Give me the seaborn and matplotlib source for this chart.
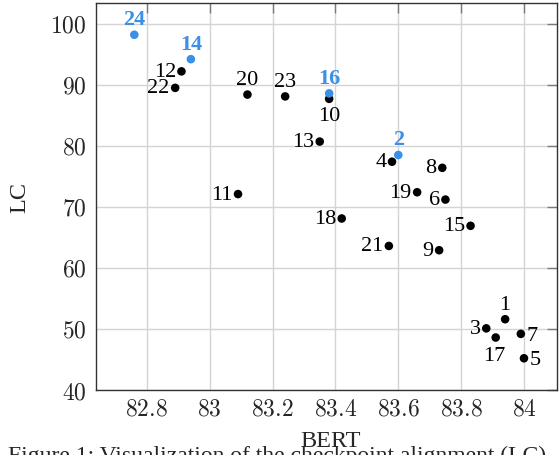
import matplotlib
matplotlib.use("Agg")
import matplotlib.pyplot as plt
from matplotlib.ticker import FuncFormatter, MultipleLocator
import seaborn as sns
import pandas as pd

# point ids, BERT score (x) and LC score (y)
ids = [1, 2, 3, 4, 5, 6, 7, 8, 9, 10, 11, 12,
       13, 14, 15, 16, 17, 18, 19, 20, 21, 22, 23, 24]
bert = [83.94, 83.60, 83.88, 83.58, 84.00, 83.75, 83.99, 83.74, 83.73, 83.38, 83.09, 82.91,
        83.35, 82.94, 83.83, 83.38, 83.91, 83.42, 83.66, 83.12, 83.57, 82.89, 83.24, 82.76]
lc = [51.6, 78.5, 50.1, 77.4, 45.2, 71.2, 49.2, 76.4, 62.9, 87.7, 72.1, 92.2,
      80.7, 94.2, 66.9, 88.6, 48.6, 68.1, 72.4, 88.4, 63.6, 89.5, 88.1, 98.2]
highlight = [2, 14, 16, 24]

# where each label sits relative to its point
label_pos = {1: "above", 2: "above", 3: "left", 4: "left", 5: "right", 6: "left",
             7: "right", 8: "left", 9: "left", 10: "below", 11: "left", 12: "left",
             13: "left", 14: "above", 15: "left", 16: "above", 17: "belowleft",
             18: "left", 19: "left", 20: "above", 21: "left", 22: "left", 23: "above",
             24: "above"}

df = pd.DataFrame({"id": ids, "BERT": bert, "LC": lc})
df["group"] = ["hi" if i in highlight else "base" for i in df["id"]]

BLUE = "#3a8fe6"

sns.set_theme(style="whitegrid")
plt.rcParams["font.family"] = ["Liberation Serif", "DejaVu Serif"]
plt.rcParams["mathtext.fontset"] = "cm"

fig = plt.figure(figsize=(5.6, 4.56), dpi=100)
ax = fig.add_axes([0.1714, 0.1425, 0.8232, 0.8487])

# draw black points first so the blue ones sit on top (16 over 10)
sns.scatterplot(data=df.sort_values("group"), x="BERT", y="LC", hue="group",
                palette={"base": "black", "hi": BLUE}, s=38, linewidth=0,
                legend=False, ax=ax, zorder=3)

offsets = {"above": ((0, 4), "center", "bottom"),
           "below": ((0, -5), "center", "top"),
           "left": ((-4, 0), "right", "center"),
           "right": ((4, -1), "left", "center"),
           "belowleft": ((-1, -6), "center", "top")}
for _, r in df.iterrows():
    (dx, dy), ha, va = offsets[label_pos[r["id"]]]
    hi = r["group"] == "hi"
    ax.annotate(str(int(r["id"])), (r["BERT"], r["LC"]), xytext=(dx, dy),
                textcoords="offset points", ha=ha, va=va, fontsize=16,
                color=BLUE if hi else "black",
                fontweight="bold" if hi else "normal")

ax.set_xlim(82.638, 84.105)
ax.set_ylim(40, 103.4)
ax.xaxis.set_major_locator(MultipleLocator(0.2))
ax.yaxis.set_major_locator(MultipleLocator(10))
ax.xaxis.set_major_formatter(FuncFormatter(lambda v, p: f"${v:g}$"))
ax.yaxis.set_major_formatter(FuncFormatter(lambda v, p: f"${v:g}$"))
ax.tick_params(direction="in", length=7, width=1, color="#7a7a7a",
               top=True, right=True, labelsize=17)
ax.tick_params(axis="y", pad=7)
ax.tick_params(axis="x", pad=6)
ax.grid(True, color="#d4d4d4", linewidth=1)
for s in ax.spines.values():
    s.set_color("#333333")
    s.set_linewidth(1)

ax.set_xlabel("BERT", fontsize=17.5)
ax.set_ylabel("LC", fontsize=17.5)
ax.xaxis.set_label_coords(0.508, -0.103)
ax.yaxis.set_label_coords(-0.143, 0.5)

# caption runs off the bottom edge, as in the source
fig.text(0.014, 1 - 446 / 456, "Figure 1: Visualization of the checkpoint alignment (LC)",
         fontsize=17, ha="left", va="top", zorder=0)

fig.savefig("out.png", dpi=100)
